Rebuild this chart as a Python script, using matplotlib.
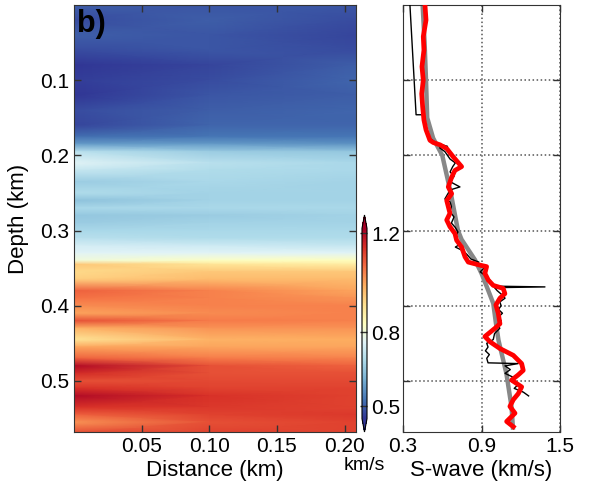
import matplotlib
matplotlib.use("Agg")
import matplotlib.pyplot as plt
import numpy as np

plt.rcParams['font.family'] = ['Liberation Sans', 'DejaVu Sans']
plt.rcParams['font.size'] = 15

# left panel: velocity section (km/s), rows = depth, columns = distance
dist_cols = [0.0, 0.1, 0.2085]
depth_rows = [0.00, 0.02, 0.04, 0.06, 0.08, 0.10, 0.12, 0.14, 0.16, 0.175, 0.185, 0.195,
              0.21, 0.22, 0.235, 0.25, 0.26, 0.27, 0.28, 0.29, 0.30, 0.31, 0.32, 0.33,
              0.34, 0.345, 0.355, 0.365, 0.38, 0.39, 0.40, 0.41, 0.42, 0.43, 0.445, 0.455,
              0.47, 0.48, 0.49, 0.50, 0.51, 0.52, 0.535, 0.545, 0.555, 0.568]
vel_left = [0.50, 0.48, 0.50, 0.48, 0.45, 0.46, 0.45, 0.48, 0.47, 0.52, 0.58, 0.70,
            0.76, 0.72, 0.66, 0.69, 0.64, 0.68, 0.65, 0.66, 0.68, 0.70, 0.74, 0.76,
            0.80, 0.95, 0.92, 0.94, 1.08, 1.06, 1.03, 1.00, 1.10, 0.98, 0.90, 1.00,
            1.08, 1.20, 1.15, 1.10, 1.14, 1.20, 1.14, 1.08, 1.02, 1.10]
vel_mid = [0.49, 0.50, 0.49, 0.49, 0.47, 0.48, 0.49, 0.50, 0.51, 0.53, 0.58, 0.66,
           0.70, 0.69, 0.68, 0.67, 0.67, 0.68, 0.66, 0.67, 0.68, 0.69, 0.73, 0.76,
           0.83, 0.90, 0.95, 0.97, 1.04, 1.04, 1.04, 1.03, 1.05, 1.02, 0.98, 1.00,
           1.05, 1.10, 1.10, 1.11, 1.12, 1.14, 1.13, 1.12, 1.10, 1.12]
vel_right = [0.49, 0.48, 0.47, 0.48, 0.50, 0.51, 0.50, 0.51, 0.51, 0.53, 0.57, 0.65,
             0.68, 0.68, 0.67, 0.67, 0.67, 0.68, 0.67, 0.67, 0.68, 0.69, 0.72, 0.76,
             0.84, 0.88, 0.95, 0.97, 1.00, 1.02, 1.04, 1.04, 1.04, 1.02, 0.99, 1.00,
             1.04, 1.08, 1.10, 1.11, 1.12, 1.12, 1.12, 1.13, 1.12, 1.12]

# right panel: S-wave profiles (depth km, velocity km/s)
smooth_depth = [0.0, 0.05, 0.10, 0.15, 0.177, 0.20, 0.25, 0.30, 0.312, 0.339, 0.357,
                0.379, 0.397, 0.423, 0.446, 0.49, 0.535, 0.562]
smooth_vel = [0.45, 0.465, 0.476, 0.485, 0.53, 0.60, 0.665, 0.72, 0.748, 0.85, 0.90,
              0.95, 0.99, 1.01, 1.03, 1.09, 1.13, 1.14]

log_depth = [0.0, 0.146, 0.146, 0.155, 0.165, 0.172, 0.178, 0.183, 0.186, 0.188, 0.190,
             0.195, 0.20, 0.205, 0.21, 0.215, 0.222, 0.228, 0.235, 0.242, 0.246, 0.252,
             0.258, 0.262, 0.268, 0.275, 0.282, 0.29, 0.296, 0.302, 0.308, 0.314, 0.318,
             0.322, 0.327, 0.332, 0.338, 0.342, 0.345, 0.35, 0.355, 0.36, 0.365, 0.37,
             0.374, 0.375, 0.376, 0.38, 0.386, 0.39, 0.395, 0.40, 0.405, 0.41, 0.415,
             0.42, 0.425, 0.43, 0.437, 0.445, 0.45, 0.455, 0.46, 0.465, 0.47, 0.476,
             0.477, 0.48, 0.485, 0.49, 0.495, 0.50, 0.505, 0.51, 0.515, 0.52]
log_vel = [0.353, 0.400, 0.453, 0.46, 0.47, 0.49, 0.51, 0.55, 0.60, 0.64, 0.58,
           0.62, 0.64, 0.66, 0.70, 0.68, 0.66, 0.69, 0.66, 0.735, 0.66, 0.64,
           0.62, 0.66, 0.67, 0.66, 0.69, 0.67, 0.70, 0.72, 0.70, 0.71, 0.74,
           0.70, 0.76, 0.79, 0.82, 0.88, 0.86, 0.92, 0.89, 0.93, 0.96, 0.98,
           1.00, 1.385, 1.00, 1.02, 1.06, 1.08, 1.04, 1.05, 1.03, 1.06, 1.03,
           1.05, 1.02, 1.04, 1.00, 0.99, 0.94, 0.95, 0.93, 0.96, 0.94, 0.95,
           1.18, 1.08, 1.12, 1.08, 1.14, 1.12, 1.18, 1.15, 1.22, 1.26]

inv_depth = [0.0, 0.020, 0.042, 0.060, 0.082, 0.100, 0.118, 0.135, 0.153, 0.166, 0.180,
             0.183, 0.186, 0.191, 0.202, 0.215, 0.220, 0.229, 0.242, 0.251, 0.260, 0.277,
             0.286, 0.295, 0.304, 0.313, 0.322, 0.335, 0.342, 0.346, 0.348, 0.357, 0.366,
             0.373, 0.377, 0.384, 0.390, 0.399, 0.410, 0.424, 0.430, 0.441, 0.448, 0.457,
             0.466, 0.477, 0.486, 0.492, 0.499, 0.508, 0.517, 0.525, 0.534, 0.543, 0.554,
             0.561]
inv_vel = [0.468, 0.476, 0.455, 0.460, 0.445, 0.455, 0.443, 0.450, 0.460, 0.476, 0.506,
           0.532, 0.583, 0.634, 0.684, 0.748, 0.697, 0.672, 0.646, 0.672, 0.634, 0.659,
           0.634, 0.659, 0.697, 0.710, 0.748, 0.774, 0.799, 0.888, 0.939, 0.926, 0.952,
           0.990, 1.066, 1.079, 1.041, 1.010, 1.028, 1.041, 1.003, 0.926, 0.965, 1.041,
           1.143, 1.207, 1.219, 1.181, 1.130, 1.207, 1.181, 1.143, 1.117, 1.156, 1.092,
           1.143]

W, H = 589, 491
fig = plt.figure(figsize=(W / 100, H / 100), dpi=100)

ax = fig.add_axes([74 / W, 1 - 432 / H, 282 / W, 427 / H])
Z = np.column_stack([vel_left, vel_mid, vel_right])
mesh = ax.pcolormesh(dist_cols, depth_rows, Z, shading='gouraud', cmap='RdYlBu_r',
                     vmin=0.45, vmax=1.22)
ax.set_xlim(0, 0.2085)
ax.set_ylim(0.568, 0)
ax.set_xticks([0.05, 0.10, 0.15, 0.20])
ax.set_xticklabels(['0.05', '0.10', '0.15', '0.20'])
ax.set_yticks([0.1, 0.2, 0.3, 0.4, 0.5])
ax.tick_params(direction='in', top=True, right=True, length=5, width=1, color='#333333',
               labelsize=15)
ax.set_xlabel('Distance (km)', fontsize=16, labelpad=3)
ax.set_ylabel('Depth (km)', fontsize=16, labelpad=8)
ax.text(0.012, 0.99, 'b)', transform=ax.transAxes, fontsize=22, fontweight='bold',
        va='top', ha='left')
for s in ax.spines.values():
    s.set_color('#333333')

cax = fig.add_axes([362 / W, 1 - 432 / H, 5 / W, 217 / H])
cb = fig.colorbar(mesh, cax=cax, extend='both', extendfrac=0.07, ticks=[0.5, 0.8, 1.2])
cb.ax.set_yticklabels(['0.5', '0.8', '1.2'])
cb.ax.tick_params(direction='in', length=5, width=1, pad=3, color='#333333', labelsize=15)
cb.outline.set_linewidth(0.8)
fig.text(364 / W, 1 - 457 / H, 'km/s', ha='center', va='top', fontsize=14)

ax2 = fig.add_axes([403 / W, 1 - 432 / H, 157 / W, 427 / H])
ax2.plot(smooth_vel, smooth_depth, color='#888888', lw=3.2, zorder=2)
ax2.plot(log_vel, log_depth, color='black', lw=1.0, zorder=3)
ax2.plot(inv_vel, inv_depth, color='#ff0000', lw=3.4, zorder=4)
ax2.set_xlim(0.3, 1.5)
ax2.set_ylim(0.568, 0)
ax2.set_xticks([0.3, 0.9, 1.5])
ax2.set_yticks([0.1, 0.2, 0.3, 0.4, 0.5])
ax2.set_yticklabels([])
ax2.grid(True, linestyle=':', color='#555555', lw=1.1)
ax2.tick_params(direction='in', top=True, right=True, length=5, width=1, color='#333333',
                labelsize=15)
ax2.set_xlabel('S-wave (km/s)', fontsize=16, labelpad=3)
for s in ax2.spines.values():
    s.set_color('#333333')

fig.savefig('out.png', dpi=100)
